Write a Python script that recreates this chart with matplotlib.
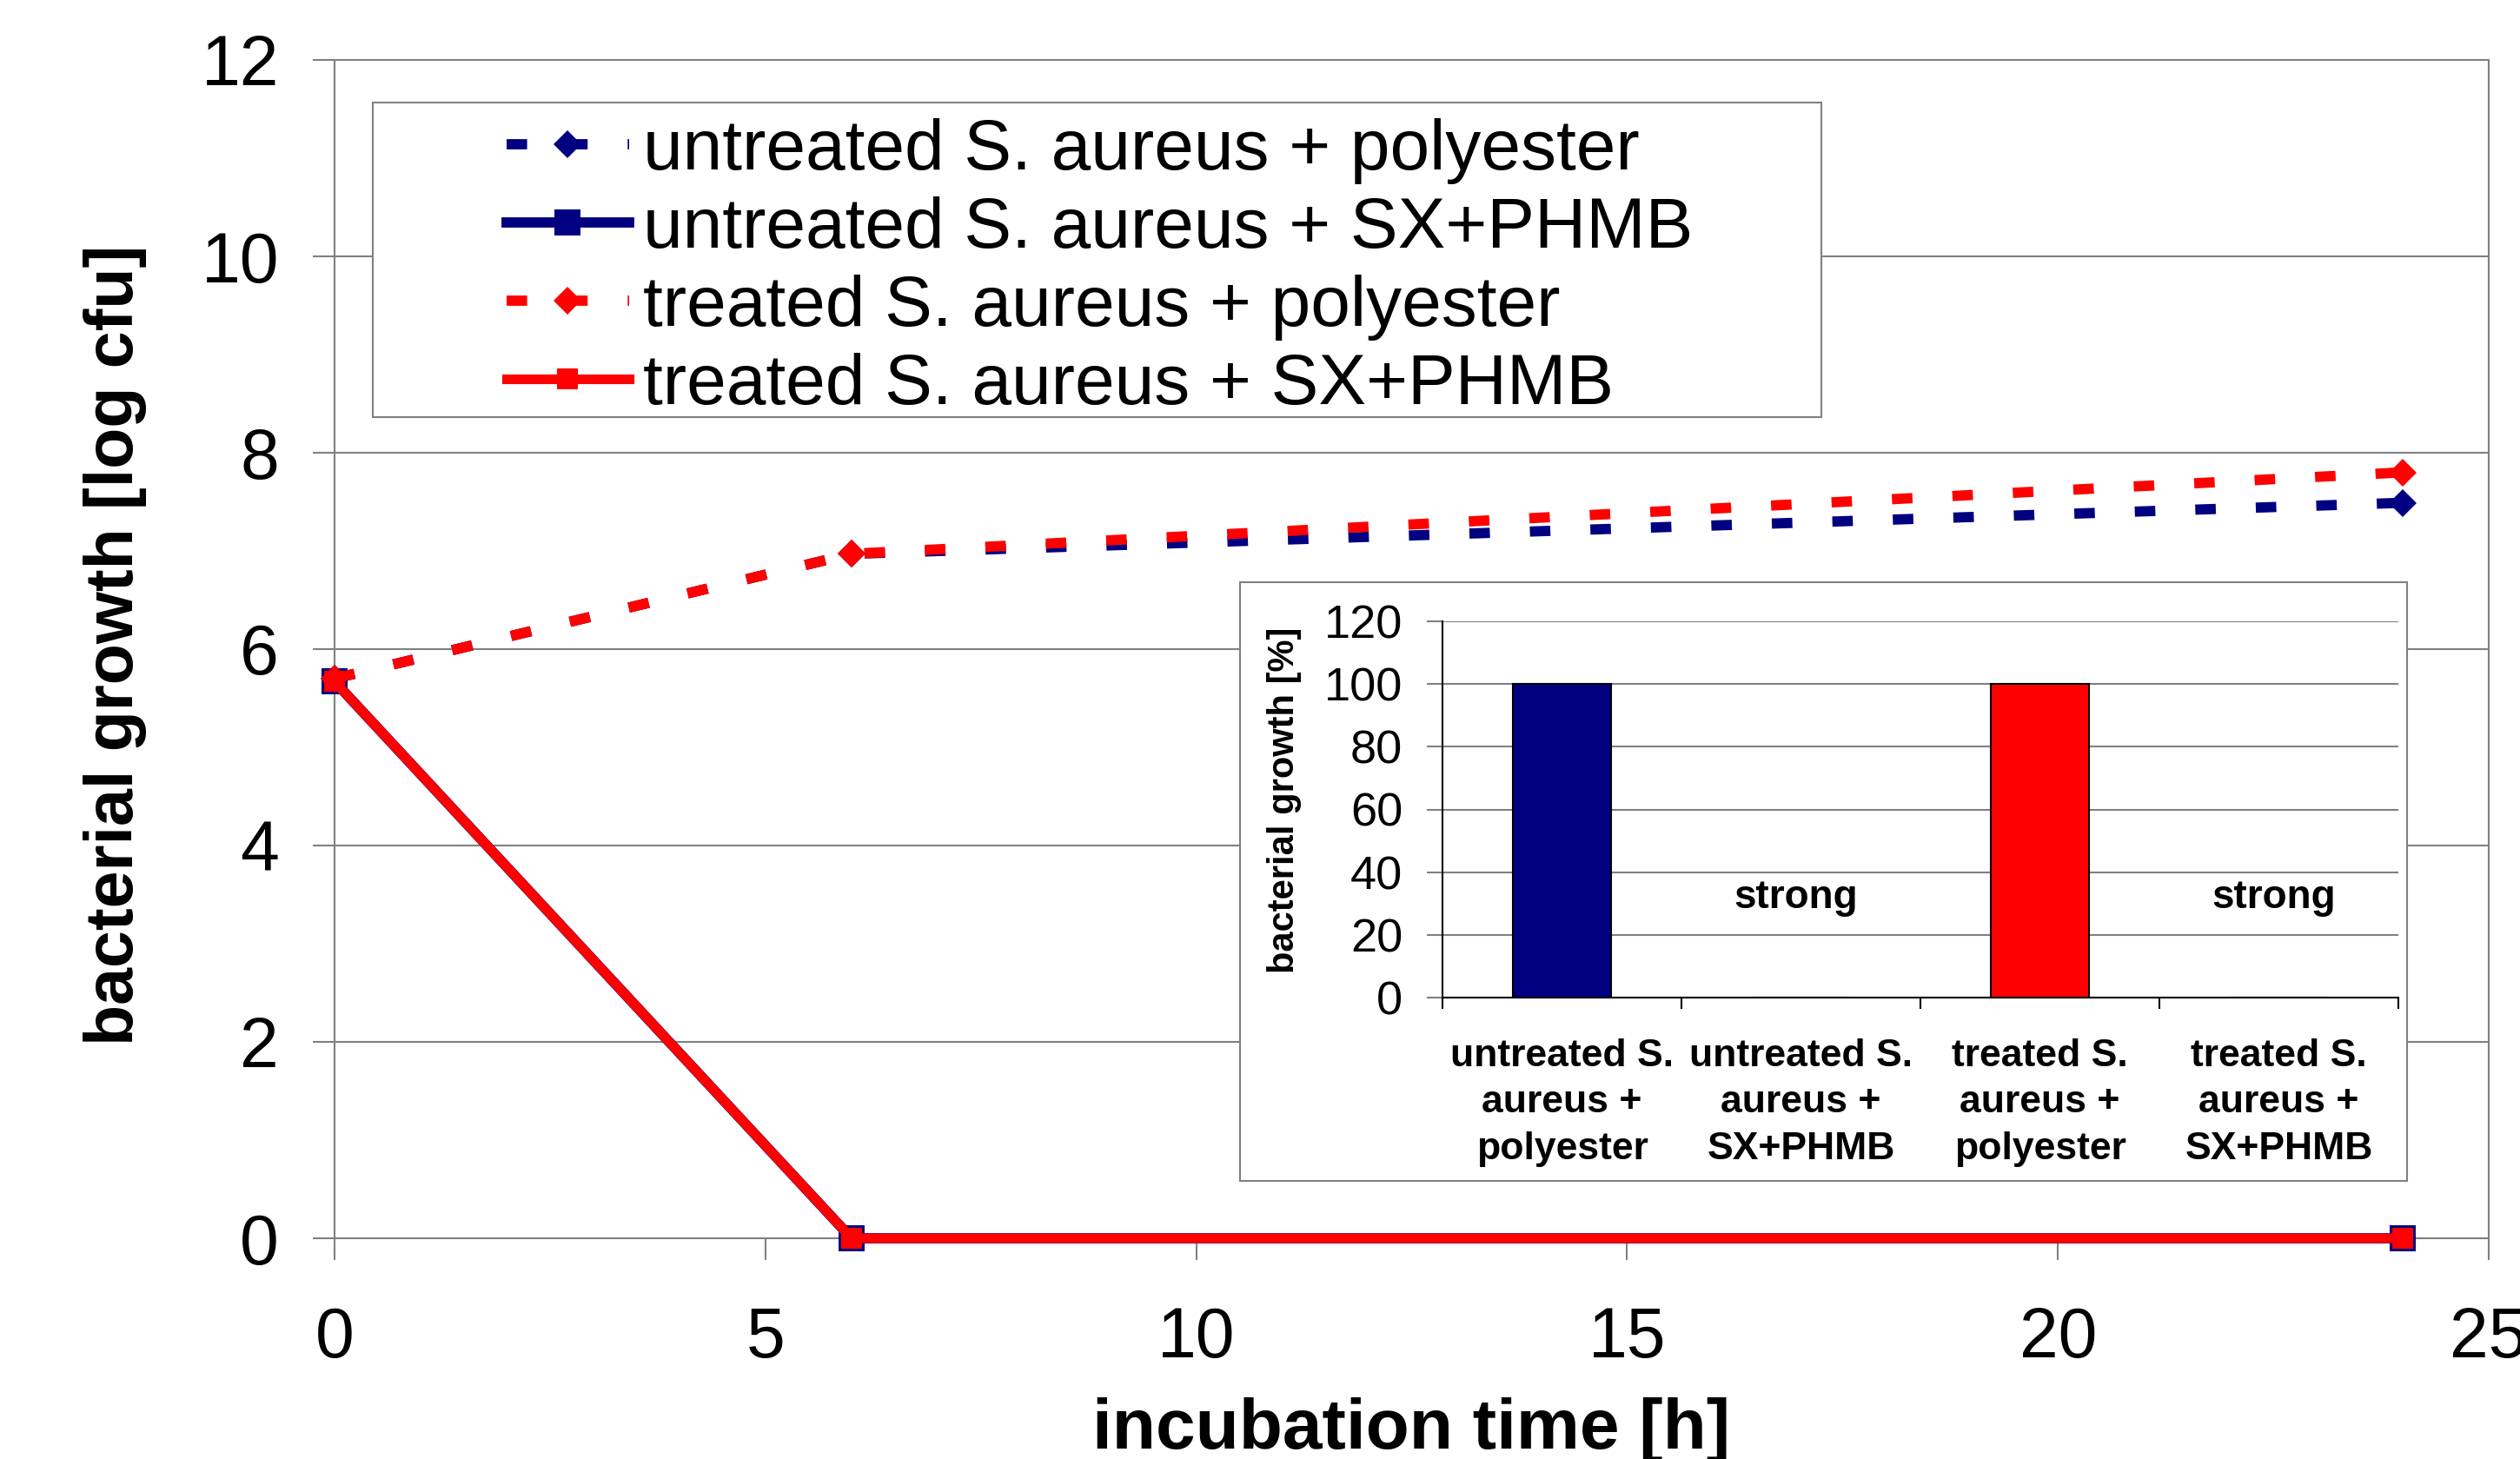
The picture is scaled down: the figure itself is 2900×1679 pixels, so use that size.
import matplotlib
matplotlib.use('Agg')
import matplotlib.pyplot as plt
from matplotlib.patches import Rectangle

plt.rcParams['font.family'] = ['Liberation Sans', 'DejaVu Sans']

# ---------------- data ----------------
time_h = [0, 6, 24]
untreated_polyester = [5.70, 6.97, 7.49]
untreated_sx_phmb = [5.67, 0.0, 0.0]
treated_polyester = [5.70, 6.97, 7.80]
treated_sx_phmb = [5.67, 0.0, 0.0]
series_labels = ['untreated S. aureus + polyester',
                 'untreated S. aureus + SX+PHMB',
                 'treated S. aureus + polyester',
                 'treated S. aureus + SX+PHMB']
x_ticks = [0, 5, 10, 15, 20, 25]
y_ticks = [0, 2, 4, 6, 8, 10, 12]

inset_categories = ['untreated S.\naureus +\npolyester',
                    'untreated S.\naureus +\nSX+PHMB',
                    'treated S.\naureus +\npolyester',
                    'treated S.\naureus +\nSX+PHMB']
inset_values = [100, 0, 100, 0]
inset_notes = ['', 'strong', '', 'strong']
inset_note_level = 32
inset_yticks = [0, 20, 40, 60, 80, 100, 120]

# ---------------- styles ----------------
NAVY = '#000080'
RED = '#FF0000'
GRID = '#808080'
W, H = 2900, 1679


def fx(px):
    return px / W


def fy(py):
    return 1 - py / H


fig = plt.figure(figsize=(W / 100, H / 100), dpi=100)
fig.patch.set_facecolor('white')

# ---------------- main axes ----------------
ax = fig.add_axes([fx(385), fy(1425), (2864 - 385) / W, (1425 - 69) / H])
ax.set_xlim(0, 25)
ax.set_ylim(0, 12)
ax.set_xticks(x_ticks)
ax.set_yticks(y_ticks)
ax.yaxis.grid(True, color=GRID, lw=1.5)
ax.set_axisbelow(True)
for s in ax.spines.values():
    s.set_color(GRID)
    s.set_linewidth(1.5)
ax.tick_params(axis='both', direction='out', length=18, width=1.5, color=GRID,
               labelsize=58, labelcolor='black')
ax.tick_params(axis='y', pad=28)
ax.tick_params(axis='x', pad=38)

dash = (0, (2.0, 3.9))
l1, = ax.plot(time_h, untreated_polyester, color=NAVY, lw=8.5, ls=dash,
              marker='D', ms=16, mfc=NAVY, mec=NAVY, mew=0,
              label=series_labels[0], clip_on=False, zorder=3)
l2, = ax.plot(time_h, untreated_sx_phmb, color=NAVY, lw=8.5, ls='-',
              marker='s', ms=22, mfc=NAVY, mec=NAVY, mew=0,
              label=series_labels[1], clip_on=False, zorder=3)
l3, = ax.plot(time_h, treated_polyester, color=RED, lw=8.5, ls=dash,
              marker='D', ms=16, mfc=RED, mec=RED, mew=0,
              label=series_labels[2], clip_on=False, zorder=4)
l4, = ax.plot(time_h, treated_sx_phmb, color=RED, lw=8.0, ls='-',
              marker='s', ms=17, mfc=RED, mec=RED, mew=0,
              label=series_labels[3], clip_on=False, zorder=4)

ax.set_xlabel('incubation time [h]', fontsize=59, fontweight='bold', va='center')
ax.xaxis.set_label_coords(0.5, (1425 - 1646) / 1356)
ax.set_ylabel('bacterial growth [log cfu]', fontsize=55.5, fontweight='bold', va='center')
ax.yaxis.set_label_coords((133 - 385) / 2479, (1425 - 742) / 1356)

# legend frame + legend
frame = Rectangle((fx(429), fy(480)), (2096 - 429) / W, (480 - 118) / H,
                  transform=fig.transFigure, facecolor='white', edgecolor=GRID,
                  lw=1.5, zorder=4.5)
ax.add_patch(frame)
leg = ax.legend(handles=[l1, l2, l3, l4], loc='upper left',
                bbox_to_anchor=(fx(583), fy(136)), bbox_transform=fig.transFigure,
                frameon=False, borderpad=0, borderaxespad=0, fontsize=59,
                handlelength=1.72, handletextpad=0.2, labelspacing=0.17,
                numpoints=1)
leg.set_zorder(5)

# ---------------- inset ----------------
box = Rectangle((fx(1427), fy(1359)), (2770 - 1427) / W, (1359 - 670) / H,
                transform=fig.transFigure, facecolor='white', edgecolor=GRID,
                lw=1.5, zorder=1)
fig.patches.append(box)

axi = fig.add_axes([fx(1660), fy(1148), (2760 - 1660) / W, (1148 - 715) / H], zorder=2)
axi.patch.set_alpha(0)
pos = list(range(len(inset_categories)))
axi.bar(pos, inset_values, width=0.41, color=[NAVY, NAVY, RED, RED],
        edgecolor='black', lw=1.5, zorder=3)
for p, note in zip(pos, inset_notes):
    if note:
        axi.text(p - 0.02, inset_note_level, note, ha='center', va='center',
                 fontsize=33, fontweight='bold')
axi.set_xlim(-0.5, len(pos) - 0.5)
axi.set_ylim(0, 120)
axi.set_yticks(inset_yticks)
axi.set_xticks(pos)
axi.set_xticklabels(inset_categories, fontsize=32, fontweight='bold', linespacing=1.38)
axi.set_xticks([p - 0.5 for p in pos] + [len(pos) - 0.5], minor=True)
axi.tick_params(axis='x', which='major', length=0, pad=34)
axi.tick_params(axis='x', which='minor', length=9, width=1.5, color='black', direction='out')
axi.tick_params(axis='y', length=13, width=1.5, color=GRID, direction='out',
                labelsize=39, pad=20)
axi.yaxis.grid(True, color=GRID, lw=1.5)
axi.set_axisbelow(True)
axi.spines['top'].set_visible(False)
axi.spines['right'].set_visible(False)
axi.spines['left'].set_color('black')
axi.spines['bottom'].set_color('black')
axi.spines['left'].set_linewidth(1.5)
axi.spines['bottom'].set_linewidth(1.5)
axi.set_ylabel('bacterial growth [%]', fontsize=30, fontweight='bold', va='center')
axi.yaxis.set_label_coords((1478 - 1660) / 1100, (1148 - 921) / 433)

fig.savefig('out.png', dpi=100)
